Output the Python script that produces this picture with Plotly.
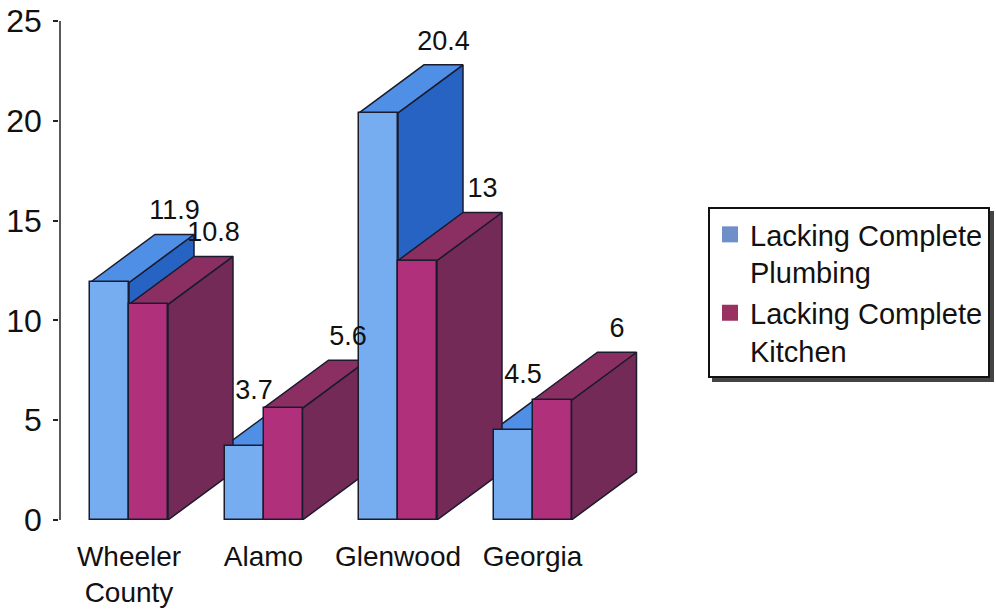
import plotly.graph_objects as go

# ---- data -------------------------------------------------------------
categories = ["Wheeler<br>County", "Alamo", "Glenwood", "Georgia"]
plumbing = [11.9, 3.7, 20.4, 4.5]
kitchen = [10.8, 5.6, 13, 6]
series_names = ["Lacking Complete<br>Plumbing", "Lacking Complete<br>Kitchen"]

# ---- box geometry (pixel sizes turned into axis units) ----------------
PLOT_W, PLOT_H = 600, 499
X0 = -0.513
X_STEP_PX = 134.5
PX_Y = PLOT_H / 25.0
BAR_W = 39 / X_STEP_PX
DEPTH_X = 65 / X_STEP_PX
DEPTH_Y = 48 / PX_Y

FONT = "Liberation Sans, Arial, sans-serif"
EDGE = "#1b1b2e"

styles = [
    dict(front="#76adf0", top="#4f90e6", side="#2663c2", swatch="#6f8fc8"),
    dict(front="#b0307c", top="#8b2f63", side="#732a56", swatch="#993163"),
]

fig = go.Figure()


def face_trace(xs, ys, color):
    return go.Scatter(
        x=xs, y=ys, mode="lines", fill="toself", fillcolor=color,
        line=dict(color=EDGE, width=1.5), hoverinfo="skip",
        showlegend=False, zorder=0,
    )


for s, values in enumerate([plumbing, kitchen]):
    st = styles[s]
    side_x, side_y, top_x, top_y = [], [], [], []
    for i, v in enumerate(values):
        left = i + (s - 1) * BAR_W
        right = left + BAR_W
        side_x += [right, right + DEPTH_X, right + DEPTH_X, right, right, None]
        side_y += [0, DEPTH_Y, v + DEPTH_Y, v, 0, None]
        top_x += [left, right, right + DEPTH_X, left + DEPTH_X, left, None]
        top_y += [v, v, v + DEPTH_Y, v + DEPTH_Y, v, None]
    fig.add_trace(face_trace(side_x, side_y, st["side"]))
    fig.add_trace(face_trace(top_x, top_y, st["top"]))

for s, values in enumerate([plumbing, kitchen]):
    st = styles[s]
    centers = [i + (s - 0.5) * BAR_W for i in range(len(values))]
    fig.add_trace(go.Bar(
        x=centers, y=values, width=BAR_W,
        marker=dict(color=st["front"], line=dict(color=EDGE, width=1.5)),
        showlegend=False, hoverinfo="skip", zorder=1,
    ))

# value labels: above the back edge of each top face, or beside the
# front when a taller neighbouring box would hide it
lab_x, lab_y, lab_t = [], [], []
for s, values in enumerate([plumbing, kitchen]):
    for i, v in enumerate(values):
        left = i + (s - 1) * BAR_W
        hidden = s == 0 and kitchen[i] > v
        if hidden:
            lab_x.append(left + BAR_W / 2 + 10 / X_STEP_PX)
            lab_y.append(v + DEPTH_Y / 2 + 30 / PX_Y)
        else:
            lab_x.append(left + BAR_W / 2 + DEPTH_X)
            lab_y.append(v + DEPTH_Y + 22 / PX_Y)
        lab_t.append(f"{v:g}")

fig.add_trace(go.Scatter(
    x=lab_x, y=lab_y, text=lab_t, mode="text", textposition="middle center",
    textfont=dict(family=FONT, size=27, color="#111111"),
    showlegend=False, hoverinfo="skip", cliponaxis=False, zorder=2,
))

# legend entries
for s, name in enumerate(series_names):
    fig.add_trace(go.Scatter(
        x=[None], y=[None], mode="markers", name=name,
        marker=dict(symbol="square", size=16, color=styles[s]["swatch"]),
    ))


def px_to_paper(px, py):
    return (px - 60) / PLOT_W, (520 - py) / PLOT_H


lx, ly = px_to_paper(708, 207)
sx0, sy0 = px_to_paper(712, 211)
sx1, sy1 = px_to_paper(994, 382)
ax_x, _ = px_to_paper(60, 0)

fig.update_layout(
    width=996, height=613,
    margin=dict(l=60, r=996 - 60 - PLOT_W, t=21, b=613 - 21 - PLOT_H,
                autoexpand=False),
    paper_bgcolor="white", plot_bgcolor="white",
    barmode="overlay", bargap=0,
    font=dict(family=FONT, color="#111111"),
    xaxis=dict(
        range=[X0, X0 + PLOT_W / X_STEP_PX], automargin=False,
        tickmode="array", tickvals=list(range(len(categories))),
        ticktext=categories, tickfont=dict(size=28),
        showline=False, showgrid=False, zeroline=False, ticks="",
        ticklabelstandoff=17,
    ),
    yaxis=dict(
        range=[0, 25], tickmode="array", tickvals=[0, 5, 10, 15, 20, 25],
        tickfont=dict(size=32), showline=True, linecolor="#222222",
        linewidth=1.5, ticks="outside", ticklen=5, tickwidth=1.5,
        tickcolor="#222222", showgrid=False, zeroline=False,
        ticklabelstandoff=5, automargin=False,
    ),
    legend=dict(
        x=lx, y=ly, xanchor="left", yanchor="top",
        bgcolor="white", bordercolor="#111111", borderwidth=2,
        font=dict(family=FONT, size=29, color="#111111"),
        valign="top", tracegroupgap=0,
    ),
    shapes=[
        dict(type="rect", xref="paper", yref="paper",
             x0=sx0, y0=sy0, x1=sx1, y1=sy1,
             fillcolor="#444444", line=dict(width=0), layer="below"),
        dict(type="line", xref="paper", yref="y",
             x0=ax_x, x1=ax_x, y0=0, y1=25,
             line=dict(color="#222222", width=1.5), layer="above"),
    ],
)

fig.write_html("out.html")
